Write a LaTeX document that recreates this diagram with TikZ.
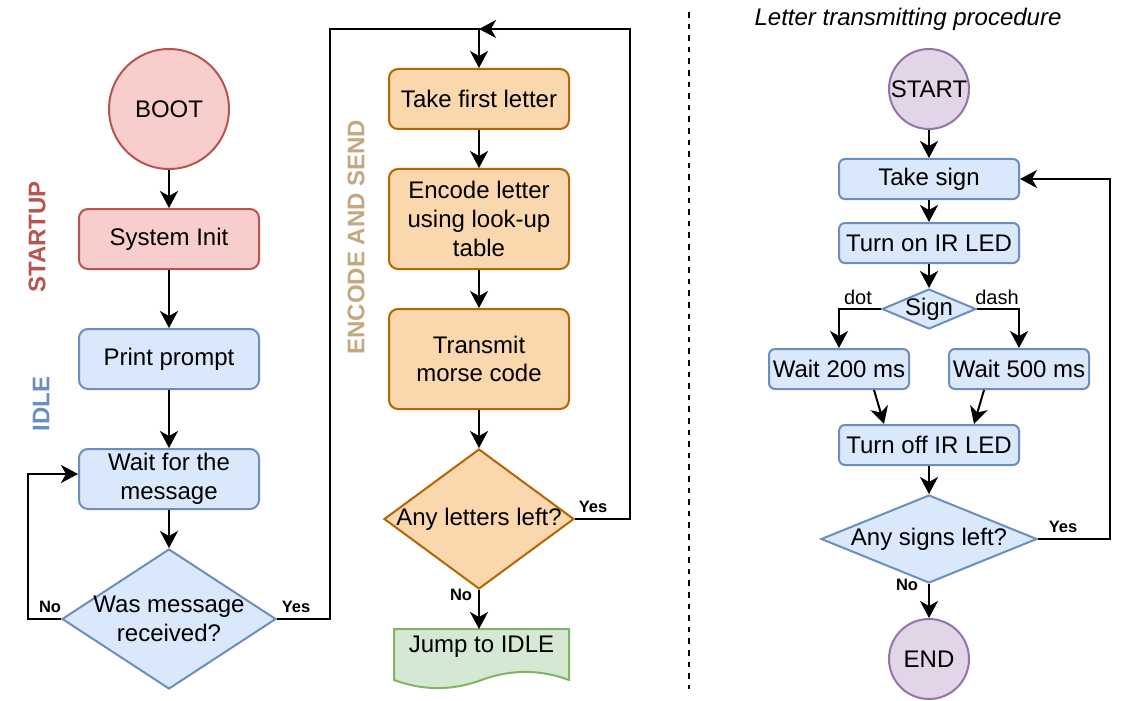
\documentclass[tikz,border=0pt]{standalone}
\usepackage{fontspec}
\setmainfont{Liberation Sans}
\usetikzlibrary{shapes.geometric}
\usetikzlibrary{arrows.meta}
\definecolor{redfill}{HTML}{F8CECC}
\definecolor{redline}{HTML}{B85450}
\definecolor{bluefill}{HTML}{DAE8FC}
\definecolor{blueline}{HTML}{6C8EBF}
\definecolor{orangefill}{HTML}{FAD7AC}
\definecolor{orangeline}{HTML}{B46504}
\definecolor{greenfill}{HTML}{D5E8D4}
\definecolor{greenline}{HTML}{82B366}
\definecolor{purplefill}{HTML}{E1D5E7}
\definecolor{purpleline}{HTML}{9673A6}
\definecolor{encodetext}{HTML}{C4A882}

\begin{document}
\begin{tikzpicture}[x=0.5pt,y=-0.5pt,line width=1pt,
  font=\fontsize{12}{14.4}\selectfont,
  arr/.style={-{Stealth[length=8.5pt,width=9pt,inset=2.5pt]}},
  box/.style={rectangle,rounded corners=4.5pt,draw,align=center,minimum width=90pt,inner sep=1pt},
  smallbox/.style={box,rounded corners=3pt,minimum height=20pt},
  dia/.style={diamond,draw,inner sep=0pt},
  blob/.style={circle,draw,inner sep=0pt},
  startup/.style={fill=redfill,draw=redline},
  idle/.style={fill=bluefill,draw=blueline},
  encode/.style={fill=orangefill,draw=orangeline},
  term/.style={fill=purplefill,draw=purpleline},
  yesno/.style={font=\fontsize{8.25}{10}\selectfont\bfseries,inner sep=0pt},
  branch/.style={font=\fontsize{10}{12}\selectfont,inner sep=0pt},
  phase/.style={font=\fontsize{12}{14.4}\selectfont\bfseries,rotate=90,inner sep=0pt}]
\fill[white] (0,0) rectangle (1138,700);

\node[blob,startup,minimum size=60pt] (boot) at (169,109) {BOOT};
\node[box,startup,minimum height=30pt] (init) at (169,239) {System Init};
\node[box,idle,minimum height=30pt] (prompt) at (169,359) {Print prompt};
\node[box,idle,minimum height=30pt] (wait) at (169,479) {Wait for the\\message};
\node[dia,idle,minimum width=107pt,minimum height=70pt,label={[align=center]center:{Was message\\received?}}] (received) at (169,619) {};
\node[phase,text=redline] (startuplabel) at (37,237) {STARTUP};
\node[phase,text=blueline] (idlelabel) at (41,404) {IDLE};
\node[phase,text=encodetext] (encodelabel) at (356,237) {ENCODE AND SEND};

\node[box,encode,minimum height=30pt] (take) at (479,99) {Take first letter};
\node[box,encode,minimum height=50pt] (lookup) at (479,219) {Encode letter\\using look-up\\table};
\node[box,encode,minimum height=50pt] (transmit) at (479,359) {Transmit\\morse code};
\node[dia,encode,minimum width=95pt,minimum height=70pt,label=center:{Any letters left?}] (letters) at (479,519) {};
\filldraw[fill=greenfill,draw=greenline] (394,629) -- (569,629) -- (569,680) .. controls (539.8,669.2) and (510.7,669.2) .. (481.5,680) .. controls (452.3,690.8) and (423.2,690.8) .. (394,680) -- cycle;
\node (jumptext) at (481.5,647) {Jump to IDLE};
\coordinate (jump) at (479,629);
\coordinate (looptop) at (479,29);

\draw[arr] (boot) -- (init);
\draw[arr] (init) -- (prompt);
\draw[arr] (prompt) -- (wait);
\draw[arr] (wait) -- (received);
\draw[arr] (received.west) -- ++(-33,0) |- ([yshift=2.5pt]wait.west);
\draw[arr] (received.east) -- ++(53,0) |- (looptop) -- (take);
\draw[arr] (take) -- (lookup);
\draw[arr] (lookup) -- (transmit);
\draw[arr] (transmit) -- (letters);
\draw[arr] (letters) -- (jump);
\draw[arr] (letters.east) -- ++(55,0) |- (looptop);
\node[yesno] (no1) at (50,607) {No};
\node[yesno] (yes1) at (296,607) {Yes};
\node[yesno] (yes2) at (593,507) {Yes};
\node[yesno] (no2) at (461,595) {No};

\draw[dash pattern=on 2.8pt off 3pt] (689,12) -- (689,689);

\node (title) at (908,19) {\itshape Letter transmitting procedure};
\node[blob,term,minimum size=40pt,label=center:START] (start) at (929,89) {};
\node[smallbox,idle] (takesign) at (929,179) {Take sign};
\node[smallbox,idle] (ledon) at (929,243) {Turn on IR LED};
\node[dia,idle,minimum width=47pt,minimum height=20pt,label=center:Sign] (signtype) at (929,309) {};
\node[smallbox,idle,minimum width=70pt] (shortwait) at (839,369) {Wait 200 ms};
\node[smallbox,idle,minimum width=70pt] (longwait) at (1019,369) {Wait 500 ms};
\node[smallbox,idle] (ledoff) at (929,445) {Turn off IR LED};
\node[dia,idle,minimum width=108pt,minimum height=44pt,label=center:{Any signs left?}] (signsleft) at (929,539) {};
\node[blob,term,minimum size=40pt] (end) at (929,659) {END};

\draw[arr] (start) -- (takesign);
\draw[arr] (takesign) -- (ledon);
\draw[arr] (ledon) -- (signtype);
\draw[arr] (signtype.west) -| (shortwait);
\draw[arr] (signtype.east) -| (longwait);
\draw[arr] ([xshift=17.5pt]shortwait.south) -- ([xshift=-22.5pt]ledoff.north);
\draw[arr] ([xshift=-17.5pt]longwait.south) -- ([xshift=22.5pt]ledoff.north);
\draw[arr] (ledoff) -- (signsleft);
\draw[arr] (signsleft) -- (end);
\draw[arr] (signsleft.east) -- ++(72,0) |- (takesign.east);
\node[branch] (dotlabel) at (858,297) {dot};
\node[branch] (dashlabel) at (997,297) {dash};
\node[yesno] (yes3) at (1063,527) {Yes};
\node[yesno] (no3) at (907,585) {No};
\end{tikzpicture}
\end{document}
